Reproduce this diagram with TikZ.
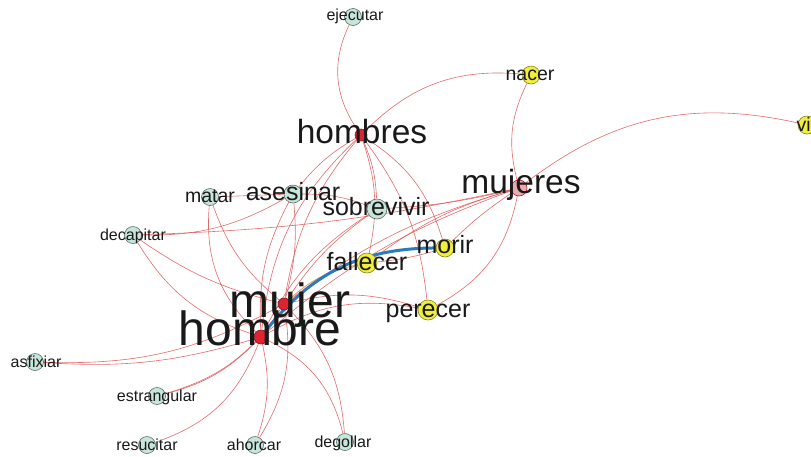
\documentclass[tikz,border=0pt]{standalone}
\usepackage{fontspec}
\setmainfont{Liberation Sans}
\usetikzlibrary{backgrounds}
\definecolor{edgered}{RGB}{222,80,80}
\definecolor{leafteal}{RGB}{200,229,219}
\definecolor{leafline}{RGB}{88,108,102}
\definecolor{verbyellow}{RGB}{240,238,64}
\definecolor{yelline}{RGB}{130,130,40}
\definecolor{hubred}{RGB}{222,36,48}
\definecolor{hubpink}{RGB}{236,170,176}
\definecolor{linkblue}{RGB}{42,122,190}
\definecolor{linkorange}{RGB}{232,150,70}

\begin{document}
\begin{tikzpicture}[x=1pt,y=-1pt,
  leaf/.style={draw=leafline,fill=leafteal,circle,inner sep=0pt,minimum size=17pt,line width=0.6pt},
  verb/.style={draw=yelline,fill=verbyellow,circle,inner sep=0pt,minimum size=18pt,line width=0.6pt},
  hub/.style={draw=hubred!60!black,fill=hubred,circle,inner sep=0pt,minimum size=12pt,line width=0.6pt},
  word/.style={anchor=base,inner sep=0pt,text=black!90},
  wordxs/.style={word,font=\fontsize{16}{16}\selectfont},
  words/.style={word,font=\fontsize{19.5}{19.5}\selectfont},
  wordm/.style={word,font=\fontsize{25}{25}\selectfont},
  wordl/.style={word,font=\fontsize{33.5}{33.5}\selectfont},
  wordxl/.style={word,font=\fontsize{48}{48}\selectfont},
  link/.style={draw=edgered,line width=0.6pt,opacity=0.85}]
\useasboundingbox (0,0) rectangle (811,456);
\clip (0,0) rectangle (811,456);

% nodes
\node[leaf] (ejecutar) at (353,17) {};
\node[hub] (hombres) at (361,135) {};
\node[verb] (nacer) at (531,75) {};
\node[verb] (vivir) at (807,125) {};
\node[hub,fill=hubpink,draw=hubred!80!black,minimum size=16pt] (mujeres) at (519,188) {};
\node[leaf] (matar) at (210,197) {};
\node[leaf,minimum size=18pt] (asesinar) at (293,194) {};
\node[leaf,minimum size=20pt] (sobrevivir) at (377,209) {};
\node[leaf] (decapitar) at (133,235) {};
\node[verb,minimum size=20pt] (fallecer) at (367,263) {};
\node[verb] (morir) at (445,248) {};
\node[verb,minimum size=20pt] (perecer) at (428,310) {};
\node[hub] (mujer) at (284,304) {};
\node[hub,minimum size=14pt] (hombre) at (261,337) {};
\node[leaf] (asfixiar) at (35,362) {};
\node[leaf] (estrangular) at (157,396) {};
\node[leaf] (resucitar) at (147,445) {};
\node[leaf] (ahorcar) at (255,445) {};
\node[leaf] (degollar) at (345,442) {};

% edges
\begin{scope}[on background layer]
  \draw[link] (hombres) to[bend left=30] (ejecutar);
  \draw[link] (hombres) to[bend left=25] (nacer);
  \draw[link] (hombres) to[bend right=10] (asesinar);
  \draw[link] (hombres) to[bend right=15] (mujer);
  \draw[link] (hombres) to[bend right=20] (hombre);
  \draw[link] (hombres) to[bend left=10] (sobrevivir);
  \draw[link] (hombres) to[bend left=15] (fallecer);
  \draw[link] (hombres) to[bend left=20] (morir);
  \draw[link] (hombres) to[bend left=15] (perecer);
  \draw[link] (mujeres) to[bend left=20] (nacer);
  \draw[link] (mujeres) to[bend left=25] (vivir);
  \draw[link] (mujeres) to[bend left=5] (sobrevivir);
  \draw[link] (mujeres) to[bend left=5] (decapitar);
  \draw[link] (mujeres) to[bend right=5] (morir);
  \draw[link] (mujeres) to[bend right=10] (fallecer);
  \draw[link] (mujeres) to[bend left=25] (perecer);
  \draw[link] (mujeres) to[bend right=10] (mujer);
  \draw[link] (mujeres) to[bend right=10] (hombre);
  \draw[link] (asesinar) -- (matar);
  \draw[link] (decapitar) to[bend right=15] (asesinar);
  \draw[link] (decapitar) to[bend right=10] (mujer);
  \draw[link] (decapitar) to[bend right=20] (hombre);
  \draw[link] (matar) to[bend right=15] (mujer);
  \draw[link] (matar) to[bend right=25] (hombre);
  \draw[link] (asesinar) to[bend left=10] (mujer);
  \draw[link] (asesinar) to[bend right=15] (hombre);
  \draw[link] (asesinar) to[bend left=10] (sobrevivir);
  \draw[link] (sobrevivir) to[bend right=10] (mujer);
  \draw[link] (sobrevivir) to[bend right=15] (hombre);
  \draw[link] (fallecer) to[bend right=5] (morir);
  \draw[link] (mujer) to[bend left=15] (perecer);
  \draw[link] (hombre) to[bend left=20] (perecer);
  \draw[link] (asfixiar) to[bend right=10] (hombre);
  \draw[link] (asfixiar) to[bend right=15] (mujer);
  \draw[link] (estrangular) to[bend right=15] (hombre);
  \draw[link] (estrangular) to[bend right=20] (mujer);
  \draw[link] (resucitar) to[bend right=25] (hombre);
  \draw[link] (ahorcar) to[bend right=15] (hombre);
  \draw[link] (ahorcar) to[bend right=20] (mujer);
  \draw[link] (degollar) to[bend right=25] (hombre);
  \draw[link] (degollar) to[bend right=20] (mujer);
  \draw[draw=linkorange,line width=0.8pt] (mujer) to[bend left=15] (fallecer);
  \draw[draw=linkblue,line width=3pt] (hombre) to[bend left=26] (morir);
\end{scope}

% labels
\node[wordxs] (ejecutar-t) at (355,20) {ejecutar};
\node[wordl] (hombres-t) at (362,143) {hombres};
\node[words] (nacer-t) at (530,80) {nacer};
\node[words] (vivir-t) at (814,131) {vivir};
\node[wordl] (mujeres-t) at (521,193) {mujeres};
\node[words] (matar-t) at (210,202) {matar};
\node[wordm] (asesinar-t) at (293,200) {asesinar};
\node[wordm] (sobrevivir-t) at (376,215) {sobrevivir};
\node[wordxs] (decapitar-t) at (133,240) {decapitar};
\node[wordm] (fallecer-t) at (367,270) {fallecer};
\node[wordm] (morir-t) at (445,253) {morir};
\node[wordm] (perecer-t) at (428,317) {perecer};
\node[wordxl] (mujer-t) at (290,317) {mujer};
\node[wordxl] (hombre-t) at (260,345) {hombre};
\node[wordxs] (asfixiar-t) at (36,367) {asfixiar};
\node[wordxs] (estrangular-t) at (157,401) {estrangular};
\node[wordxs] (resucitar-t) at (147,450) {resucitar};
\node[wordxs] (ahorcar-t) at (254,450) {ahorcar};
\node[wordxs] (degollar-t) at (343,447) {degollar};
\end{tikzpicture}
\end{document}
